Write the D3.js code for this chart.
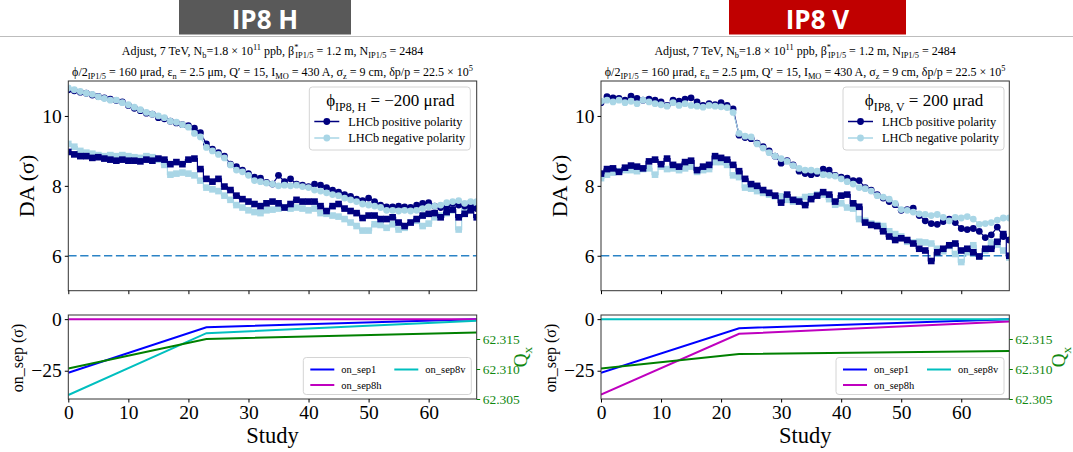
<!DOCTYPE html>
<html><head><meta charset="utf-8">
<script src="https://cdn.jsdelivr.net/npm/d3@7"></script>
<style>
body{margin:0;background:#fff}
svg{display:block}
text{font-family:"Liberation Serif","Times New Roman",serif;fill:#000}
</style>
</head><body>
<svg id="c" width="1073" height="452"></svg>
<script>
// ---------- data ----------
const studies = d3.range(0, 69);
const daTicks = [6, 8, 10];
const studyTicks = [0, 10, 20, 30, 40, 50, 60];
const sepTicks = [-25, 0];
const qTicks = [62.305, 62.310, 62.315];
const daThreshold = 6;
const knobStudies = [0, 23, 68];

// IP8 H : circles (upper) and squares (lower)
const hPosCircle = [10.75,10.72,10.68,10.65,10.6,10.56,10.52,10.48,10.44,10.4,10.3,10.22,10.15,10.08,10.05,9.95,9.92,9.85,9.8,9.75,9.72,9.65,9.52,9.2,9.05,8.95,8.85,8.62,8.55,8.45,8.35,8.25,8.22,8.1,8.05,8.3,8.12,8.2,8.05,8.02,7.98,8.05,8.02,7.95,7.88,7.82,7.75,7.7,7.62,7.58,7.65,7.55,7.45,7.4,7.4,7.42,7.4,7.38,7.45,7.5,7.52,7.42,7.38,7.4,7.5,7.45,7.42,7.4,7.35];
const hNegCircle = [10.8,10.75,10.7,10.65,10.62,10.55,10.5,10.45,10.45,10.38,10.32,10.25,10.18,10.1,10.05,10.0,9.95,9.85,9.82,9.75,9.68,9.5,9.4,9.1,9.0,8.9,8.8,8.6,8.45,8.4,8.3,8.15,8.12,8.08,8.05,8.0,8.02,8.0,8.02,7.98,7.95,7.88,7.85,7.8,7.75,7.72,7.65,7.6,7.55,7.48,7.45,7.42,7.38,7.3,7.3,7.28,7.3,7.28,7.3,7.35,7.4,7.42,7.45,7.52,7.55,7.58,7.5,7.55,7.55];
const hPosSquare = [8.97,8.9,8.85,8.85,8.8,8.82,8.78,8.75,8.72,8.75,8.72,8.72,8.7,8.75,8.72,8.78,8.75,8.62,8.68,8.62,8.75,8.78,8.48,8.2,8.12,8.2,7.98,7.88,7.72,7.62,7.55,7.48,7.42,7.5,7.55,7.5,7.38,7.48,7.6,7.55,7.55,7.55,7.42,7.28,7.42,7.48,7.35,7.28,7.22,7.08,7.15,7.15,7.05,7.05,7.1,6.95,6.85,6.95,7.05,7.15,7.2,7.22,7.1,7.25,7.32,7.1,7.2,7.3,7.1];
const hNegSquare = [9.2,9.12,9.0,8.95,8.92,8.88,8.85,8.88,8.85,8.88,8.85,8.82,8.8,8.85,8.82,8.75,8.6,8.32,8.35,8.38,8.35,8.3,8.15,7.95,7.9,7.85,7.72,7.6,7.45,7.38,7.3,7.25,7.22,7.3,7.32,7.35,7.38,7.35,7.38,7.35,7.3,7.35,7.22,7.2,7.15,7.12,7.05,6.95,6.85,6.72,6.72,6.9,6.88,6.8,6.9,6.75,6.8,6.95,7.0,6.85,6.92,7.1,7.15,7.22,7.3,6.75,7.35,7.5,7.45];
// IP8 H knobs
const hSep1 = [-26, -3.9, 0];
const hSep8h = [0, 0, 0];
const hSep8v = [-36.8, -6.8, -0.8];
const hQx = [62.3101, 62.3150, 62.3161];

// IP8 V
const vPosCircle = [10.38,10.55,10.52,10.5,10.45,10.57,10.5,10.45,10.48,10.45,10.4,10.3,10.45,10.42,10.48,10.52,10.4,10.3,10.35,10.32,10.38,10.3,10.2,9.45,9.38,9.35,9.22,9.12,9.0,8.85,8.65,8.72,8.6,8.42,8.35,8.32,8.35,8.48,8.45,8.3,8.25,8.22,8.15,8.15,7.95,7.88,7.75,7.65,7.55,7.46,7.3,7.32,7.36,7.15,7.0,6.92,6.9,6.98,7.05,6.95,6.78,6.75,6.78,6.7,6.52,6.6,6.82,6.55,6.45];
const vNegCircle = [10.42,10.45,10.4,10.45,10.38,10.42,10.35,10.45,10.4,10.35,10.32,10.28,10.38,10.3,10.35,10.3,10.28,10.25,10.3,10.28,10.26,10.24,10.1,9.5,9.42,9.4,9.2,9.08,8.95,8.85,8.78,8.7,8.58,8.5,8.45,8.45,8.42,8.32,8.3,8.28,8.2,8.12,8.05,7.95,7.92,7.85,7.72,7.68,7.62,7.5,7.32,7.3,7.25,7.2,7.18,7.15,7.18,7.1,7.0,7.1,7.08,7.12,7.05,6.9,6.92,6.95,7.02,7.08,7.08];
const vPosSquare = [8.35,8.48,8.5,8.4,8.52,8.58,8.55,8.5,8.7,8.75,8.62,8.78,8.6,8.55,8.68,8.72,8.45,8.55,8.6,8.85,8.8,8.75,8.6,8.42,8.2,8.05,8.0,7.88,7.8,7.72,7.52,7.75,7.6,7.55,7.45,7.62,7.72,7.82,7.75,7.55,7.72,7.75,7.5,7.4,6.95,6.88,6.85,6.7,6.55,6.45,6.5,6.45,6.35,6.2,6.15,5.85,6.1,6.2,6.3,6.35,6.15,6.2,6.1,5.98,6.2,6.2,6.4,6.62,6.0];
const vNegSquare = [8.22,8.32,8.38,8.42,8.45,8.45,8.42,8.48,8.5,8.32,8.55,8.48,8.5,8.45,8.5,8.55,8.4,8.45,8.48,8.68,8.68,8.6,8.3,8.25,7.95,7.92,7.85,7.8,7.75,7.7,7.7,7.6,7.55,7.6,7.68,7.7,7.75,7.75,7.62,7.46,7.5,7.38,7.35,7.05,7.0,6.92,6.88,6.85,6.7,6.62,6.55,6.4,6.38,6.4,6.38,6.35,6.2,6.13,6.28,6.05,5.82,6.1,6.3,5.98,6.15,6.38,6.32,6.15,5.95];
// IP8 V knobs
const vSep1 = [-26, -4.4, 0];
const vSep8h = [-36.6, -7.1, -1.2];
const vSep8v = [0, 0, 0];
const vQx = [62.3101, 62.3125, 62.3130];

const legendLabels = ["LHCb positive polarity", "LHCb negative polarity"];
const knobLabels = ["on_sep1", "on_sep8h", "on_sep8v"];

// ---------- drawing ----------
const svg = d3.select("#c");
const NAVY = "#00007f", LBLUE = "#a9d6e6";
const SERIF = '"Liberation Serif","Times New Roman",serif';

function richText(g, x, y, parts, size, anchor) {
  const t = g.append("text").attr("x", x).attr("y", y)
    .attr("font-size", size).attr("text-anchor", anchor || "middle");
  let cur = 0;
  parts.forEach(p => {
    const target = p.sub ? size * 0.28 : p.sup ? -size * 0.4 : 0;
    const ts = t.append("tspan").attr("dy", target - cur).text(p.t);
    if (p.sub || p.sup) ts.attr("font-size", size * 0.7);
    if (p.dx) ts.attr("dx", p.dx);
    cur = target;
  });
  return t;
}

// header line
svg.append("line").attr("x1", 0).attr("x2", 1073).attr("y1", 36.5).attr("y2", 36.5)
  .attr("stroke", "#bdbdbd").attr("stroke-width", 1.2);

function panel(cfg, idx) {
  const g = svg.append("g");
  const x = d3.scaleLinear([0, 68], [cfg.x0, cfg.x1]);
  const y = d3.scaleLinear([5, 11], [290.7, 81]);
  const yS = d3.scaleLinear([-38.7, 2.0], [399, 315]);
  const yQ = d3.scaleLinear([62.305, 62.319], [399, 315]);

  // header box
  g.append("rect").attr("x", cfg.hx0).attr("y", 0).attr("width", cfg.hx1 - cfg.hx0).attr("height", 34.5)
    .attr("fill", cfg.hColor);
  g.append("text").attr("x", (cfg.hx0 + cfg.hx1) / 2).attr("y", 28.5).attr("text-anchor", "middle")
    .attr("font-weight", 700).attr("font-size", 26)
    .style("font-family", '"Open Sans",sans-serif').style("fill", "#fff").text(cfg.header);

  // titles
  const cx = (cfg.x0 + cfg.x1) / 2;
  richText(g, cx, 55, [
    {t: "Adjust, 7 TeV, N"}, {t: "b", sub: true}, {t: "=1.8 × 10"}, {t: "11", sup: true},
    {t: " ppb, β"}, {t: "*", sup: true}, {t: "IP1/5", sub: true, dx: -3},
    {t: " = 1.2 m, N"}, {t: "IP1/5", sub: true}, {t: " = 2484"}], 12);
  richText(g, cx, 76, [
    {t: "ϕ/2"}, {t: "IP1/5", sub: true}, {t: " = 160 μrad, ε"}, {t: "n", sub: true},
    {t: " = 2.5 μm, Q′ = 15, I"}, {t: "MO", sub: true}, {t: " = 430 A, σ"}, {t: "z", sub: true},
    {t: " = 9 cm, δp/p = 22.5 × 10"}, {t: "5", sup: true}], 12);

  // clip paths
  const defs = g.append("defs");
  defs.append("clipPath").attr("id", "ct" + idx).append("rect")
    .attr("x", cfg.x0).attr("y", 81).attr("width", cfg.x1 - cfg.x0).attr("height", 290.7 - 81);
  defs.append("clipPath").attr("id", "cb" + idx).append("rect")
    .attr("x", cfg.x0).attr("y", 315).attr("width", cfg.x1 - cfg.x0).attr("height", 84);

  // ---- top panel ----
  const top = g.append("g").attr("clip-path", `url(#ct${idx})`);
  top.append("line").attr("x1", x(0)).attr("x2", x(68)).attr("y1", y(daThreshold)).attr("y2", y(daThreshold))
    .attr("stroke", "#2b83c6").attr("stroke-width", 1.5).attr("stroke-dasharray", "8.3,3.6");

  const stepLine = d3.line().x((d, i) => x(studies[i])).y(d => y(d)).curve(d3.curveStep);
  const plainLine = d3.line().x((d, i) => x(studies[i])).y(d => y(d));

  function squares(data, color) {
    top.append("path").attr("d", stepLine(data)).attr("fill", "none").attr("stroke", color).attr("stroke-width", 1.2);
    top.selectAll(null).data(data).enter().append("rect")
      .attr("x", (d, i) => x(studies[i]) - 3.3).attr("y", d => y(d) - 3.3)
      .attr("width", 6.6).attr("height", 6.6).attr("fill", color);
  }
  function circles(data, color) {
    top.append("path").attr("d", plainLine(data)).attr("fill", "none").attr("stroke", color).attr("stroke-width", 1.2);
    top.selectAll(null).data(data).enter().append("circle")
      .attr("cx", (d, i) => x(studies[i])).attr("cy", d => y(d)).attr("r", 3.4).attr("fill", color);
  }
  squares(cfg.negSquare, LBLUE);
  squares(cfg.posSquare, NAVY);
  circles(cfg.posCircle, NAVY);
  circles(cfg.negCircle, LBLUE);

  // frame + axes top
  g.append("rect").attr("x", cfg.x0).attr("y", 81).attr("width", cfg.x1 - cfg.x0).attr("height", 290.7 - 81)
    .attr("fill", "none").attr("stroke", "#333").attr("stroke-width", 1);
  const axT = g.append("g").attr("transform", `translate(${cfg.x0},0)`)
    .call(d3.axisLeft(y).tickValues(daTicks).tickSize(3.5).tickPadding(3).tickFormat(d3.format("d")));
  axT.select(".domain").remove();
  axT.selectAll("text").attr("font-size", 19.5).style("font-family", SERIF);
  const axTx = g.append("g").attr("transform", `translate(0,290.7)`)
    .call(d3.axisBottom(x).tickValues(studyTicks).tickSize(3.5).tickFormat(""));
  axTx.select(".domain").remove();

  // DA label
  g.append("text").attr("transform", `translate(${cfg.x0 - 41.5},186) rotate(-90)`)
    .attr("text-anchor", "middle").attr("dominant-baseline", "central").attr("font-size", 22).text("DA (σ)");

  // top legend
  const lx = cfg.x0 + cfg.legX;
  const lg = g.append("g");
  lg.append("rect").attr("x", lx).attr("y", 87).attr("width", 161).attr("height", 63).attr("rx", 3)
    .attr("fill", "#fff").attr("fill-opacity", 0.85).attr("stroke", "#d4d4d4").attr("stroke-width", 1);
  richText(lg, lx + 81, 106, cfg.legTitle, 17);
  [NAVY, LBLUE].forEach((c, i) => {
    const yy = 121.5 + i * 16.5;
    lg.append("line").attr("x1", lx + 5).attr("x2", lx + 30).attr("y1", yy).attr("y2", yy).attr("stroke", c).attr("stroke-width", 1.5);
    lg.append("circle").attr("cx", lx + 17.5).attr("cy", yy).attr("r", 3.4).attr("fill", c);
    lg.append("text").attr("x", lx + 39).attr("y", yy + 4.3).attr("font-size", 12.3).text(legendLabels[i]);
  });

  // ---- bottom panel ----
  const bot = g.append("g").attr("clip-path", `url(#cb${idx})`);
  const sepLine = d3.line().x((d, i) => x(knobStudies[i])).y(d => yS(d));
  const qLine = d3.line().x((d, i) => x(knobStudies[i])).y(d => yQ(d));
  const knobColors = ["#0000ff", "#bf00bf", "#00bfbf"];
  [cfg.sep1, cfg.sep8h, cfg.sep8v].forEach((s, i) => {
    bot.append("path").attr("d", sepLine(s)).attr("fill", "none").attr("stroke", knobColors[i]).attr("stroke-width", 2);
  });
  bot.append("path").attr("d", qLine(cfg.qx)).attr("fill", "none").attr("stroke", "#008000").attr("stroke-width", 2);

  g.append("rect").attr("x", cfg.x0).attr("y", 315).attr("width", cfg.x1 - cfg.x0).attr("height", 84)
    .attr("fill", "none").attr("stroke", "#333").attr("stroke-width", 1);
  const axB = g.append("g").attr("transform", `translate(${cfg.x0},0)`)
    .call(d3.axisLeft(yS).tickValues(sepTicks).tickSize(3.5).tickPadding(3).tickFormat(d3.format("d")));
  axB.select(".domain").remove();
  axB.selectAll("text").attr("font-size", 19.5).style("font-family", SERIF);
  const axBx = g.append("g").attr("transform", `translate(0,399)`)
    .call(d3.axisBottom(x).tickValues(studyTicks).tickSize(3.5).tickPadding(3).tickFormat(d3.format("d")));
  axBx.select(".domain").remove();
  axBx.selectAll("text").attr("font-size", 19.5).style("font-family", SERIF);
  const axQ = g.append("g").attr("transform", `translate(${cfg.x1},0)`)
    .call(d3.axisRight(yQ).tickValues(qTicks).tickSize(3.5).tickPadding(2.5).tickFormat(d3.format(".3f")));
  axQ.select(".domain").remove();
  axQ.selectAll("line").attr("stroke", "#008000");
  axQ.selectAll("text").attr("font-size", 13.5).style("font-family", SERIF).style("fill", "#118811");

  g.append("text").attr("transform", `translate(${cfg.x0 - 51},358) rotate(-90)`)
    .attr("text-anchor", "middle").attr("dominant-baseline", "central").attr("font-size", 16).text("on_sep (σ)");
  const ql = richText(g, 0, 0, [{t: "Q"}, {t: "x", sub: true}], 19);
  ql.attr("transform", `translate(${cfg.x1 + cfg.qOff},357) rotate(-90)`).style("fill", "#118811");
  ql.selectAll("tspan").style("fill", "#118811");

  g.append("text").attr("x", cx).attr("y", 443).attr("text-anchor", "middle").attr("font-size", 22.5).text("Study");

  // bottom legend
  const bx = cfg.x0 + 235;
  const bl = g.append("g");
  bl.append("rect").attr("x", bx).attr("y", 357.5).attr("width", 168).attr("height", 37).attr("rx", 3)
    .attr("fill", "#fff").attr("fill-opacity", 0.85).attr("stroke", "#d4d4d4").attr("stroke-width", 1);
  const entries = [[0, 0], [1, 1], [2, 0]]; // [label idx, row]
  entries.forEach(([k, row], j) => {
    const col = j === 2 ? 1 : 0;
    const ex = bx + (col ? 91 : 7);
    const ey = 369.5 + row * 15.5;
    bl.append("line").attr("x1", ex).attr("x2", ex + 24).attr("y1", ey).attr("y2", ey)
      .attr("stroke", knobColors[k]).attr("stroke-width", 2);
    bl.append("text").attr("x", ex + 31).attr("y", ey + 3.5).attr("font-size", 10.5).text(knobLabels[k]);
  });
}

panel({
  x0: 68.3, x1: 476.7, hx0: 179, hx1: 351, hColor: "#595959", header: "IP8 H", legX: 241, qOff: 50,
  legTitle: [{t: "ϕ"}, {t: "IP8, H", sub: true}, {t: " = −200 μrad"}],
  posCircle: hPosCircle, negCircle: hNegCircle, posSquare: hPosSquare, negSquare: hNegSquare,
  sep1: hSep1, sep8h: hSep8h, sep8v: hSep8v, qx: hQx
}, 0);
panel({
  x0: 601, x1: 1009.3, hx0: 729, hx1: 906, hColor: "#c00000", header: "IP8 V", legX: 242, qOff: 56,
  legTitle: [{t: "ϕ"}, {t: "IP8, V", sub: true}, {t: " = 200 μrad"}],
  posCircle: vPosCircle, negCircle: vNegCircle, posSquare: vPosSquare, negSquare: vNegSquare,
  sep1: vSep1, sep8h: vSep8h, sep8v: vSep8v, qx: vQx
}, 1);
</script>
</body></html>
